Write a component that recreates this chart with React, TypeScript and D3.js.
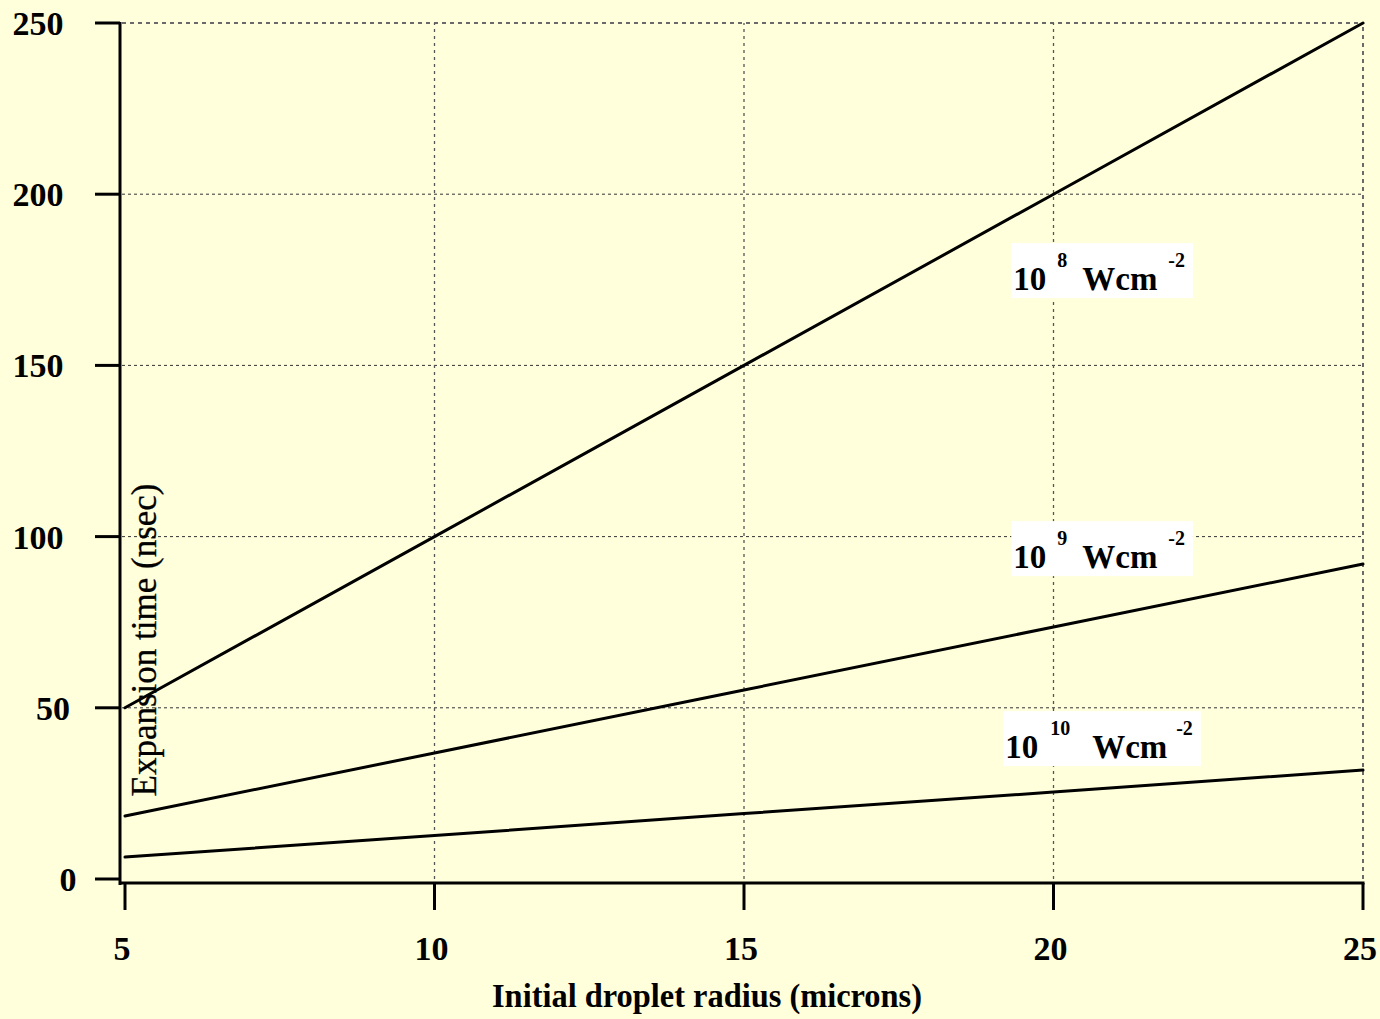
import React, { useEffect, useRef } from "react";
import * as d3 from "d3";

// Initial droplet radius (microns)
const radii = [5, 10, 15, 20, 25];
// Expansion time (nsec) for each laser intensity
const time1e8 = [50, 100, 150, 200, 250];
const time1e9 = [18.4, 36.8, 55.2, 73.6, 92.0];
const time1e10 = [6.4, 12.7, 19.1, 25.4, 31.8];

const xTicks = [5, 10, 15, 20, 25];
const yTicks = [0, 50, 100, 150, 200, 250];

// Intensity labels: exponent and anchor (radius, time) of the label baseline start
const labelExponents = ["8", "9", "10"];
const labelRadius = [19.35, 19.35, 19.22];
const labelTime = [172, 90.8, 35.3];

const W = 1380;
const H = 1019;
const BG = "#FFFFDC";
const FONT = "'Liberation Serif', 'Times New Roman', serif";

export default function App() {
  const ref = useRef<SVGSVGElement | null>(null);

  useEffect(() => {
    const svg = d3.select(ref.current);
    svg.selectAll("*").remove();

    const x = d3.scaleLinear().domain([5, 25]).range([125, 1363]);
    const y = d3.scaleLinear().domain([0, 250]).range([879, 23]);

    svg.append("rect").attr("width", W).attr("height", H).attr("fill", BG);

    // grid
    const grid = svg.append("g");
    yTicks.filter((t) => t > 0).forEach((t) => {
      const border = t === 250;
      grid.append("line")
        .attr("x1", 122).attr("x2", x(25))
        .attr("y1", y(t)).attr("y2", y(t))
        .attr("stroke", border ? "#6a6a6a" : "#333")
        .attr("stroke-width", border ? 2 : 1)
        .attr("stroke-dasharray", border ? "4,4" : "3,3");
    });
    xTicks.filter((t) => t > 5).forEach((t) => {
      const border = t === 25;
      grid.append("line")
        .attr("x1", x(t)).attr("x2", x(t))
        .attr("y1", y(0)).attr("y2", y(250))
        .attr("stroke", border ? "#6a6a6a" : "#555")
        .attr("stroke-width", border ? 2 : 1.3)
        .attr("stroke-dasharray", border ? "4,4" : "3,4");
    });

    // axes
    const ax = svg.append("g").attr("stroke", "#000").attr("stroke-width", 3);
    ax.append("line").attr("x1", 120).attr("x2", 120).attr("y1", y(250) - 1).attr("y2", 885);
    ax.append("line").attr("x1", 119).attr("x2", x(25) + 1.5).attr("y1", 883).attr("y2", 883);
    yTicks.forEach((t) => {
      ax.append("line").attr("x1", 95).attr("x2", 120).attr("y1", y(t)).attr("y2", y(t));
    });
    xTicks.forEach((t) => {
      ax.append("line").attr("x1", x(t)).attr("x2", x(t)).attr("y1", 883).attr("y2", 910);
    });

    // tick labels
    yTicks.forEach((t) => {
      const s = String(t);
      svg.append("text")
        .attr("x", 38 + (3 - s.length) * 15)
        .attr("y", y(t) + 12)
        .attr("text-anchor", "middle")
        .attr("font-family", FONT).attr("font-weight", "bold").attr("font-size", 34)
        .text(s);
    });
    xTicks.forEach((t) => {
      svg.append("text")
        .attr("x", x(t) - 3)
        .attr("y", 960)
        .attr("text-anchor", "middle")
        .attr("font-family", FONT).attr("font-weight", "bold").attr("font-size", 34)
        .text(String(t));
    });

    // axis titles
    svg.append("text")
      .attr("x", 707).attr("y", 1007)
      .attr("text-anchor", "middle")
      .attr("font-family", FONT).attr("font-weight", "bold").attr("font-size", 33)
      .attr("textLength", 430).attr("lengthAdjust", "spacingAndGlyphs")
      .text("Initial droplet radius (microns)");
    svg.append("text")
      .attr("transform", "translate(156,640) rotate(-90)")
      .attr("text-anchor", "middle")
      .attr("font-family", FONT).attr("font-size", 35)
      .attr("stroke", "#000").attr("stroke-width", 0.3)
      .text("Expansion time (nsec)");

    // curves
    const line = d3.line<number>()
      .x((_, i) => x(radii[i]))
      .y((v) => y(v));
    [time1e8, time1e9, time1e10].forEach((s) => {
      svg.append("path")
        .attr("d", line(s) ?? "")
        .attr("fill", "none")
        .attr("stroke", "#000")
        .attr("stroke-width", 3)
        .attr("stroke-linecap", "round");
    });

    // intensity labels
    labelExponents.forEach((e, i) => {
      const x0 = x(labelRadius[i]);
      const yb = y(labelTime[i]);
      const long = e.length > 1;
      const offs = long ? [0, 45, 87, 171] : [0, 44, 69, 155];
      const g = svg.append("g");
      const rect = g.append("rect").attr("fill", "#fff");
      const txt = g.append("g").attr("font-family", FONT).attr("font-weight", "bold");
      txt.append("text").attr("x", x0 + offs[0]).attr("y", yb).attr("font-size", 33).text("10");
      txt.append("text").attr("x", x0 + offs[1]).attr("y", yb - 23).attr("font-size", 20).text(e);
      txt.append("text").attr("x", x0 + offs[2]).attr("y", yb).attr("font-size", 33).text("Wcm");
      txt.append("text").attr("x", x0 + offs[3]).attr("y", yb - 23).attr("font-size", 20).text("-2");
      const bb = (txt.node() as SVGGElement).getBBox();
      rect.attr("x", x0 - 2)
        .attr("y", yb - 47)
        .attr("width", bb.x + bb.width + 8 - (x0 - 2))
        .attr("height", 55);
    });
  }, []);

  return (
    <svg
      ref={ref}
      width={W}
      height={H}
      style={{ position: "absolute", left: 0, top: 0, display: "block" }}
    />
  );
}
